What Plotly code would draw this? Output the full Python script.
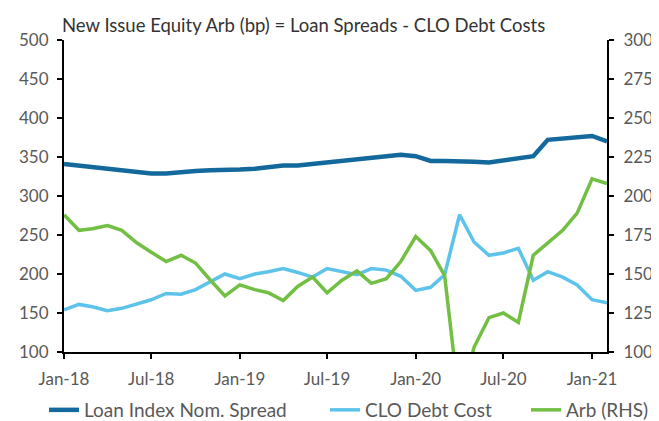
import plotly.graph_objects as go
import pandas as pd

months = pd.date_range("2018-01-01", "2021-02-01", freq="MS")

loan_spread = [341, 339, 337, 335, 333, 332, 329, 329, 331, 332, 333, 333,
               334, 335, 337, 339, 339, 341, 343, 345, 347, 348, 350, 353,
               351, 345, 345, 345, 344, 343, 346, 349, 351, 372, 374, 376,
               377, 370]
clo_cost = [154, 161, 158, 153, 156, 161, 167, 175, 174, 180, 190, 200,
            194, 200, 203, 207, 202, 196, 207, 203, 199, 207, 205, 197,
            179, 183, 199, 276, 241, 224, 227, 233, 192, 203, 196, 186,
            167, 163]
arb = [188, 178, 179, 181, 178, 170, 164, 158, 162, 157, 146, 136,
       143, 140, 138, 133, 142, 148, 138, 146, 152, 144, 147, 158,
       174, 165, 149, 66, 103, 122, 125, 119, 162, 170, 178, 189,
       211, 208]

title_text = "New Issue Equity Arb (bp) = Loan Spreads - CLO Debt Costs"
names = ["Loan Index Nom. Spread", "CLO Debt Cost", "Arb (RHS)"]

FONT = "Lato"
GREY = "#595959"
TICKFONT = dict(family=FONT, size=17, color=GREY)
LEGFONT = dict(family=FONT, size=19, color=GREY)

# the page body adds an 8px offset, so the figure is drawn 8px smaller
W, H = 651, 413

fig = go.Figure()
fig.add_trace(go.Scatter(x=months, y=loan_spread, name=names[0], mode="lines",
                         legend="legend",
                         line=dict(color="#13699b", width=4.5)))
fig.add_trace(go.Scatter(x=months, y=clo_cost, name=names[1], mode="lines",
                         legend="legend2",
                         line=dict(color="#5ec3ea", width=3.5)))
fig.add_trace(go.Scatter(x=months, y=arb, name=names[2], mode="lines", yaxis="y2",
                         legend="legend3",
                         line=dict(color="#72bf44", width=3.5)))

def leg(xpix):
    return dict(orientation="h", xref="container", yref="container",
                x=xpix / W, xanchor="left", y=1 - 402 / H, yanchor="middle",
                font=LEGFONT, bgcolor="rgba(0,0,0,0)")

axis_common = dict(showgrid=False, zeroline=False, automargin=False,
                   showline=True, linecolor="black", linewidth=2,
                   ticks="outside", tickcolor="black", ticklen=5, tickwidth=2,
                   tickfont=TICKFONT)

fig.update_layout(
    width=W, height=H,
    margin=dict(l=56, r=52, t=32, b=69),
    paper_bgcolor="white", plot_bgcolor="white",
    font=dict(family=FONT, size=17, color=GREY),
    showlegend=True,
    legend=leg(36), legend2=leg(317), legend3=leg(518),
    xaxis=dict(range=[months[0], months[-1]], tickformat="%b-%y", dtick="M6",
               tick0="2018-01-01", ticklabelstandoff=6, **axis_common),
    yaxis=dict(range=[100, 500], dtick=50, ticklabelstandoff=5, **axis_common),
    yaxis2=dict(range=[100, 300], dtick=25, overlaying="y", side="right",
                ticklabelstandoff=6, **axis_common),
)
fig.add_annotation(text=title_text, xref="paper", yref="paper",
                   x=0.0, xanchor="left", xshift=-4, y=1.0, yanchor="middle", yshift=15,
                   showarrow=False, font=dict(family=FONT, size=18.5, color="#333333"))

fig.write_html("out.html")
